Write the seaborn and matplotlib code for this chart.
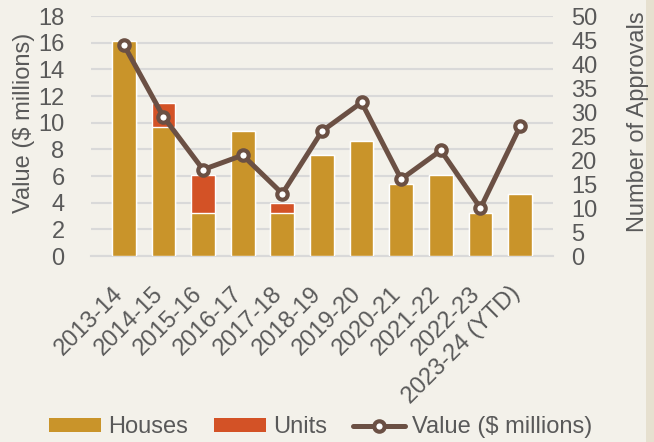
import matplotlib
matplotlib.use("Agg")
import matplotlib.pyplot as plt
import matplotlib.transforms as mtransforms
from matplotlib.patches import Patch
from matplotlib.lines import Line2D
import numpy as np
import pandas as pd
import seaborn as sns

# data
years = ['2013-14', '2014-15', '2015-16', '2016-17', '2017-18', '2018-19',
         '2019-20', '2020-21', '2021-22', '2022-23', '2023-24 (YTD)']
houses = [16.1, 9.7, 3.25, 9.35, 3.25, 7.55, 8.65, 5.4, 6.1, 3.2, 4.65]
units = [0.0, 1.8, 2.85, 0.0, 0.7, 0.0, 0.0, 0.0, 0.0, 0.0, 0.0]
approvals = [44, 29, 18, 21, 13, 26, 32, 16, 22, 10, 27]

BG = '#F3F1EA'
GOLD = '#C9942A'
RED = '#D35226'
BROWN = '#6B5044'
GRID = '#D9D9D9'
TXT = '#595959'

sns.set_theme(style='white')
plt.rcParams['font.family'] = ['Liberation Sans', 'DejaVu Sans']

df = pd.DataFrame({'year': years, 'houses': houses, 'units': units})
df['total'] = df['houses'] + df['units']

fig = plt.figure(figsize=(6.54, 4.42), dpi=100, facecolor=BG)
ax = fig.add_axes([0.139, 0.4208, 0.7066, 0.543])
ax.set_facecolor(BG)

sns.barplot(data=df, x='year', y='total', color=RED, width=0.6, saturation=1, ax=ax, zorder=2)
sns.barplot(data=df, x='year', y='houses', color=GOLD, width=0.6, saturation=1, ax=ax, zorder=3)

ax.set_ylim(0, 18)
ax.set_yticks(np.arange(0, 19, 2))
ax.yaxis.grid(True, color=GRID, linewidth=1.5, zorder=0)
ax.set_axisbelow(True)
for s in ['top', 'right', 'left']:
    ax.spines[s].set_visible(False)
ax.spines['bottom'].set_color(GRID)
ax.spines['bottom'].set_linewidth(1.5)
ax.tick_params(axis='both', length=0, colors=TXT, labelsize=17)
ax.tick_params(axis='y', pad=19)
ax.tick_params(axis='x', pad=19)
ax.set_xlabel('')
ax.set_ylabel('Value ($ millions)', fontsize=17, color=TXT)
ax.yaxis.set_label_coords(-0.122, 0.555)
for lab in ax.get_xticklabels():
    lab.set_rotation(45)
    lab.set_ha('right')
    lab.set_va('top')
    lab.set_transform(lab.get_transform() + mtransforms.ScaledTranslation(4 / 100, 0, fig.dpi_scale_trans))

ax2 = ax.twinx()
sns.lineplot(x=np.arange(len(years)), y=approvals, ax=ax2, color=BROWN, linewidth=3.6,
             marker='o', markersize=7.5, markerfacecolor='white', markeredgecolor=BROWN,
             markeredgewidth=3, zorder=5, sort=False)
ax2.set_ylim(0, 50)
ax2.set_yticks(np.arange(0, 51, 5))
for s in ['top', 'right', 'left', 'bottom']:
    ax2.spines[s].set_visible(False)
ax2.tick_params(axis='y', length=0, colors=TXT, labelsize=17, pad=13)
ax2.set_ylabel('Number of Approvals', fontsize=17, color=TXT)
ax2.yaxis.set_label_coords(1.16, 0.56)

handles = [
    Patch(facecolor=GOLD, edgecolor='none', label='Houses'),
    Patch(facecolor=RED, edgecolor='none', label='Units'),
    Line2D([], [], color=BROWN, linewidth=3.6, marker='o', markersize=7.5,
           markerfacecolor='white', markeredgecolor=BROWN, markeredgewidth=3,
           label='Value ($ millions)'),
]
fig.legend(handles=handles, loc='lower center', bbox_to_anchor=(0.49, -0.04), ncol=3,
           frameon=False, fontsize=17, labelcolor=TXT, handlelength=2.2, handleheight=0.55,
           handletextpad=0.3, columnspacing=1.1)

# darker strip along the right edge
fig.patches.append(plt.Rectangle((0.988, 0), 0.012, 1, transform=fig.transFigure,
                                 facecolor='#E6E0CF', edgecolor='none', zorder=-1))

fig.savefig('out.png', dpi=100, facecolor=BG)
